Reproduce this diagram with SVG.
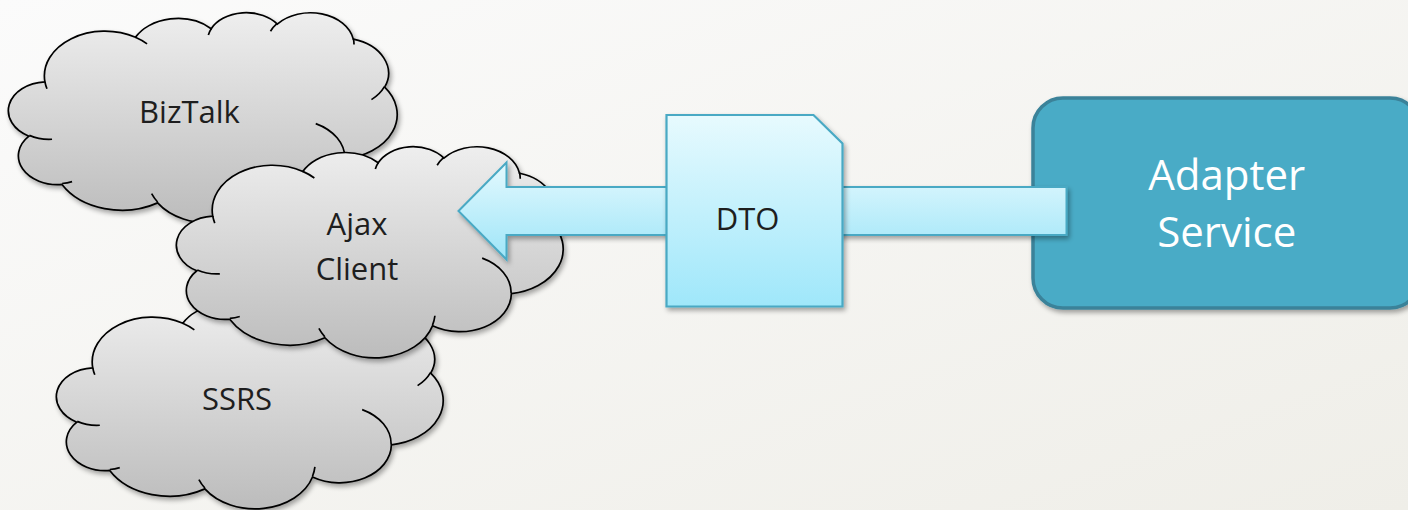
<svg xmlns="http://www.w3.org/2000/svg" xmlns:xlink="http://www.w3.org/1999/xlink" width="1408" height="510" viewBox="0 0 1408 510">
<style>
.cloud-text{font-family:"Open Sans","Noto Sans","Liberation Sans",sans-serif;font-size:31px;fill:#1e1e1e;text-anchor:middle}
.adapter-text{font-family:"Open Sans","Noto Sans","Liberation Sans",sans-serif;font-size:42px;fill:#ffffff;text-anchor:middle}
.dto-text{font-family:"Open Sans","Noto Sans","Liberation Sans",sans-serif;font-size:31px;fill:#1e1e1e;text-anchor:middle}
</style>
<defs>
<linearGradient id="bg" x1="0" y1="0" x2="1" y2="1">
<stop offset="0" stop-color="#fbfbfb"/>
<stop offset="1" stop-color="#efeee8"/>
</linearGradient>
<linearGradient id="cloudFill" x1="0" y1="0" x2="0" y2="1">
<stop offset="0" stop-color="#eeeeee"/>
<stop offset="1" stop-color="#bcbcbc"/>
</linearGradient>
<linearGradient id="arrowFill" x1="0" y1="0" x2="0" y2="1">
<stop offset="0" stop-color="#e4f9fe"/>
<stop offset="1" stop-color="#9ee5f8"/>
</linearGradient>
<linearGradient id="dtoFill" x1="0" y1="0" x2="0" y2="1">
<stop offset="0" stop-color="#e7fafe"/>
<stop offset="1" stop-color="#9fe7fa"/>
</linearGradient>
<filter id="shadow" x="-10%" y="-10%" width="125%" height="130%">
<feGaussianBlur in="SourceAlpha" stdDeviation="2.5"/>
<feOffset dx="2" dy="3"/>
<feComponentTransfer><feFuncA type="linear" slope="0.35"/></feComponentTransfer>
<feMerge><feMergeNode/><feMergeNode in="SourceGraphic"/></feMerge>
</filter>
<path id="cloudOutline" vector-effect="non-scaling-stroke" fill="url(#cloudFill)" stroke="#000" stroke-width="1.7" d="M3900,14370 A6753,9190 0 0 1 14007,5204 A5333,7267 0 0 1 22459,3436 A4365,5945 0 0 1 29836,2486 A4857,6595 0 0 1 38320,5584 A5333,7273 0 0 1 41820,15468 A6775,9220 0 0 1 37406,30210 A5785,7867 0 0 1 28557,36821 A6752,9215 0 0 1 16481,39270 A7720,10543 0 0 1 5804,35474 A4360,5918 0 0 1 2115,25549 A4345,5945 0 0 1 3900,14370 Z"/>
<path id="cloudInner" vector-effect="non-scaling-stroke" fill="none" stroke="#000" stroke-width="1.7" d="M4693,26177 A4345,5945 0 0 1 2160,25380 M6928,34899 A4360,5918 0 0 1 5819,35281 M16478,39090 A6752,9215 0 0 1 15811,37352 M28827,34751 A6752,9215 0 0 1 28560,36660 M34129,22954 A5785,7867 0 0 1 37380,30090 M41798,15354 A5333,7273 0 0 1 40349,18031 M38324,5426 A4857,6595 0 0 1 38400,6690 M29078,3952 A4857,6595 0 0 1 29822,2337 M22141,4720 A4365,5945 0 0 1 22501,3329 M14000,5192 A6753,9190 0 0 1 15300,6546 M4127,15789 A6753,9190 0 0 1 3900,14370"/>
</defs>
<rect x="0" y="0" width="1408" height="510" fill="url(#bg)"/>
<g id="node-biztalk">
<g filter="url(#shadow)">
<g transform="translate(10,12) scale(0.0089583,0.0048611)">
<use xlink:href="#cloudOutline" href="#cloudOutline"/>
<use xlink:href="#cloudInner" href="#cloudInner"/>
</g>
</g>
<text class="cloud-text" x="189.5" y="122.5">BizTalk</text>
</g>
<g id="node-ssrs">
<g filter="url(#shadow)">
<g transform="translate(58,298) scale(0.0089120,0.0048611)">
<use xlink:href="#cloudOutline" href="#cloudOutline"/>
<use xlink:href="#cloudInner" href="#cloudInner"/>
</g>
</g>
<text class="cloud-text" x="237" y="409.5">SSRS</text>
</g>
<g id="node-ajax">
<g filter="url(#shadow)">
<g transform="translate(178,146) scale(0.0089120,0.0048843)">
<use xlink:href="#cloudOutline" href="#cloudOutline"/>
<use xlink:href="#cloudInner" href="#cloudInner"/>
</g>
</g>
<text class="cloud-text" x="357" y="235">Ajax</text>
<text class="cloud-text" x="357" y="280">Client</text>
</g>
<g id="node-adapter">
<rect x="1033" y="98" width="387" height="210" rx="30" ry="30" fill="#4aabc6" stroke="#3a8299" stroke-width="3.5" filter="url(#shadow)"/>
<text class="adapter-text" x="1226.7" y="190">Adapter</text>
<text class="adapter-text" x="1226.7" y="247">Service</text>
</g>
<g id="connectors">
<path d="M458.5,211 L506.5,162.5 L506.5,187 L1066.5,187 L1066.5,235 L506.5,235 L506.5,259.5 Z" fill="url(#arrowFill)" stroke="#49a9c4" stroke-width="2" stroke-linejoin="miter" filter="url(#shadow)"/>
</g>
<g id="node-dto">
<path d="M666.5,115 L813.5,115 L842.5,143.5 L842.5,306.5 L666.5,306.5 Z" fill="url(#dtoFill)" stroke="#49a9c4" stroke-width="2.2" filter="url(#shadow)"/>
<text class="dto-text" x="747.5" y="230">DTO</text>
</g>
</svg>
